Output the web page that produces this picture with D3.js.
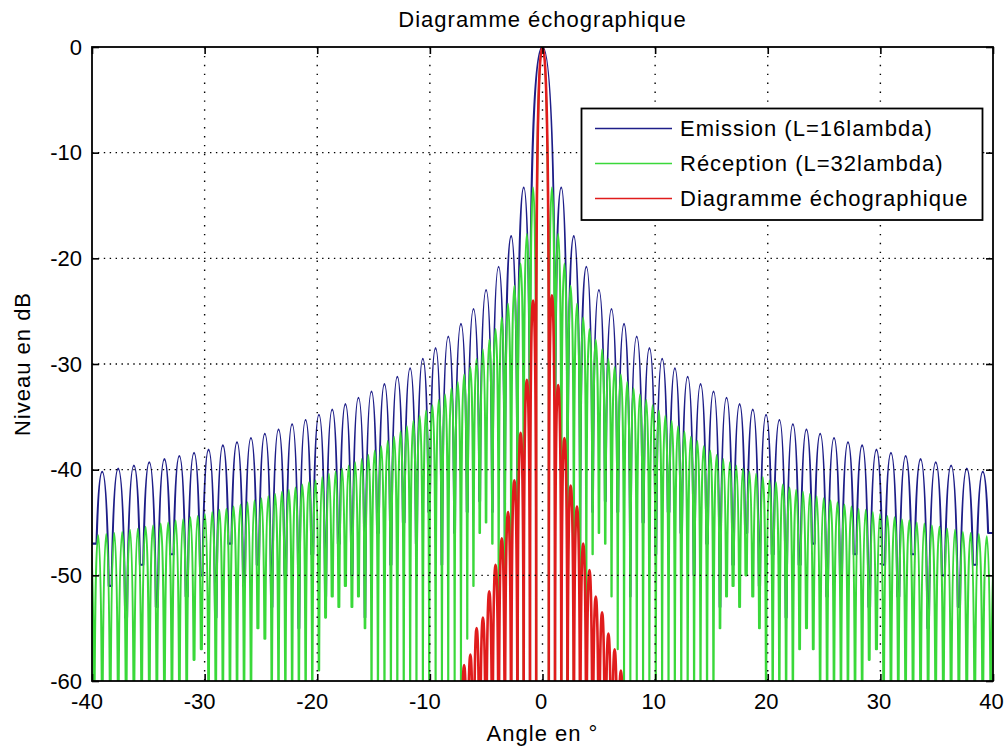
<!DOCTYPE html>
<html>
<head>
<meta charset="utf-8">
<script src="https://cdn.jsdelivr.net/npm/d3@7"></script>
<style>
  html, body { margin: 0; padding: 0; background: #fff; }
  svg { display: block; }
  text { font-family: "Liberation Sans", Arial, Helvetica, sans-serif; fill: #000; }
</style>
</head>
<body>
<svg id="chart" width="1005" height="749"></svg>
<script>
// ---------------- DATA ----------------
const chartTitle = "Diagramme échographique";
const xLabel = "Angle en °";
const yLabel = "Niveau en dB";
const xTicks = [-40, -30, -20, -10, 0, 10, 20, 30, 40];
const yTicks = [-60, -50, -40, -30, -20, -10, 0];
const seriesNames = ["Emission (L=16lambda)", "Réception (L=32lambda)", "Diagramme échographique"];

// Reception (L=32lambda): null angles (deg), depth reached at each null (dB), lobe peak levels (dB)
const receptionNullAngles = [-41.27,-40.54,-39.81,-39.09,-38.38,-37.67,-36.97,-36.28,-35.59,-34.91,-34.24,-33.57,-32.90,-32.24,-31.59,-30.94,-30.29,-29.65,-29.01,-28.38,-27.75,-27.12,-26.50,-25.88,-25.27,-24.65,-24.04,-23.44,-22.83,-22.23,-21.63,-21.03,-20.44,-19.85,-19.26,-18.67,-18.08,-17.50,-16.92,-16.34,-15.76,-15.18,-14.61,-14.03,-13.46,-12.89,-12.32,-11.75,-11.19,-10.62,-10.06,-9.49,-8.93,-8.37,-7.80,-7.24,-6.68,-6.13,-5.57,-5.01,-4.45,-3.89,-3.34,-2.78,-2.22,-1.67,-1.11,-0.56,
  0.56,1.11,1.67,2.22,2.78,3.34,3.89,4.45,5.01,5.57,6.13,6.68,7.24,7.80,8.37,8.93,9.49,10.06,10.62,11.19,11.75,12.32,12.89,13.46,14.03,14.61,15.18,15.76,16.34,16.92,17.50,18.08,18.67,19.26,19.85,20.44,21.03,21.63,22.23,22.83,23.44,24.04,24.65,25.27,25.88,26.50,27.12,27.75,28.38,29.01,29.65,30.29,30.94,31.59,32.24,32.90,33.57,34.24,34.91,35.59,36.28,36.97,37.67,38.38,39.09,39.81,40.54,41.27];
const receptionNullDepths = [-72,-68,-74,-66,-70,-64,-76,-68,-62,-72,-66,-74,-68,-63,-70,-58,-57,-62,-68,-74,-66,-70,-63,-60,-55,-56,-61,-67,-73,-65,-70,-62,-66,-59,-54,-52,-53,-51,-53,-52,-55,-61,-68,-74,-65,-72,-66,-78,-70,-64,-75,-68,-80,-72,-66,-61,-56,-51,-46,-45,-47,-53,-57,-61,-67,-73,-80,-85,
  -85,-80,-72,-66,-62,-58,-54,-48,-46,-47,-52,-57,-64,-70,-75,-68,-80,-72,-66,-78,-70,-64,-74,-68,-62,-66,-60,-55,-52,-51,-53,-50,-52,-55,-60,-66,-72,-64,-62,-57,-55,-57,-62,-70,-75,-66,-72,-64,-61,-58,-57,-63,-70,-76,-68,-74,-66,-62,-70,-78,-68,-64,-72,-66,-74,-68,-70,-70];
const receptionPeaks = [-46.5,-46.4,-46.2,-46.1,-46.0,-45.9,-45.7,-45.6,-45.4,-45.3,-45.1,-45.0,-44.8,-44.7,-44.5,-44.4,-44.2,-44.0,-43.8,-43.7,-43.5,-43.3,-43.1,-42.9,-42.7,-42.5,-42.3,-42.1,-41.9,-41.7,-41.4,-41.2,-41.0,-40.7,-40.4,-40.2,-39.9,-39.6,-39.3,-39.0,-38.6,-38.2,-37.8,-37.3,-36.9,-36.4,-35.9,-35.4,-34.9,-34.4,-33.9,-33.4,-32.9,-32.3,-31.7,-31.0,-30.3,-29.5,-28.6,-27.7,-26.7,-25.6,-24.3,-22.6,-20.5,-17.7,-13.3,
  0,
  -13.3,-17.7,-20.5,-22.6,-24.3,-25.6,-26.7,-27.7,-28.6,-29.5,-30.3,-31.0,-31.7,-32.3,-32.9,-33.4,-33.9,-34.4,-34.9,-35.4,-35.9,-36.4,-36.9,-37.3,-37.8,-38.2,-38.6,-39.0,-39.3,-39.6,-39.9,-40.2,-40.4,-40.7,-41.0,-41.2,-41.4,-41.7,-41.9,-42.1,-42.3,-42.5,-42.7,-42.9,-43.1,-43.3,-43.5,-43.7,-43.8,-44.0,-44.2,-44.4,-44.5,-44.7,-44.8,-45.0,-45.1,-45.3,-45.4,-45.6,-45.7,-45.9,-46.0,-46.1,-46.3,-46.4,-46.5];

// Emission (L=16lambda)
const emissionNullAngles = [-41.27,-39.81,-38.38,-36.97,-35.59,-34.24,-32.90,-31.59,-30.29,-29.01,-27.75,-26.50,-25.27,-24.04,-22.83,-21.63,-20.44,-19.26,-18.08,-16.92,-15.76,-14.61,-13.46,-12.32,-11.19,-10.06,-8.93,-7.80,-6.68,-5.57,-4.45,-3.34,-2.22,-1.11,
  1.11,2.22,3.34,4.45,5.57,6.68,7.80,8.93,10.06,11.19,12.32,13.46,14.61,15.76,16.92,18.08,19.26,20.44,21.63,22.83,24.04,25.27,26.50,27.75,29.01,30.29,31.59,32.90,34.24,35.59,36.97,38.38,39.81,41.27];
const emissionNullDepths = [-50,-47,-51,-54,-49,-53,-48,-52,-50,-54,-47,-51,-49,-53,-50,-55,-48,-52,-47,-50,-54,-46,-49,-45,-47,-44,-49,-46,-44,-43,-44,-59,-63,-70,
  -70,-62,-58,-44,-43,-44,-52,-45,-48,-44,-46,-50,-47,-53,-49,-46,-51,-48,-54,-49,-47,-52,-50,-48,-53,-49,-52,-48,-55,-50,-53,-49,-46,-50];
const emissionPeaks = [-40.4,-40.2,-39.9,-39.6,-39.3,-39.0,-38.7,-38.4,-38.1,-37.7,-37.4,-37.0,-36.6,-36.2,-35.7,-35.3,-34.8,-34.3,-33.8,-33.2,-32.6,-31.9,-31.2,-30.4,-29.5,-28.5,-27.4,-26.2,-24.8,-23.0,-20.8,-17.9,-13.3,
  0,
  -13.3,-17.9,-20.8,-23.0,-24.8,-26.2,-27.4,-28.5,-29.5,-30.4,-31.2,-31.9,-32.6,-33.2,-33.8,-34.3,-34.8,-35.3,-35.7,-36.2,-36.6,-37.0,-37.4,-37.7,-38.1,-38.4,-38.7,-39.0,-39.3,-39.6,-39.9,-40.2,-40.4];

// Diagramme echographique (product)
const echoNullAngles = [-7.80,-7.24,-6.68,-6.13,-5.57,-5.01,-4.45,-3.89,-3.34,-2.78,-2.22,-1.67,-1.11,-0.56,
  0.56,1.11,1.67,2.22,2.78,3.34,3.89,4.45,5.01,5.57,6.13,6.68,7.24,7.80];
const echoNullDepths = [-95,-92,-96,-90,-94,-93,-97,-91,-95,-92,-96,-94,-98,-100,
  -100,-98,-93,-95,-91,-96,-92,-94,-90,-97,-93,-95,-92,-96];
const echoPeaks = [-61,-58.5,-57.5,-55,-54,-51.5,-49,-46.5,-44,-41,-36.5,-31.5,-24,
  0,
  -23.5,-32,-37,-41.5,-43.5,-47,-49.5,-52,-53.5,-55.5,-57,-59,-61];

// ---------------- LAYOUT ----------------
const plot = { left: 92, right: 993, top: 47, bottom: 681 };
const colors = { emission: "#1e1e88", reception: "#3ad83a", echo: "#e01c1c" };
const FONT = 22;
const LOBE_RANGE = 33; // dB span used to shape each lobe's rounded top

const svg = d3.select("#chart");
const x = d3.scaleLinear().domain([-40, 40]).range([plot.left, plot.right]);
const y = d3.scaleLinear().domain([-60, 0]).range([plot.bottom, plot.top]);

svg.append("defs").append("clipPath").attr("id", "clip")
  .append("rect").attr("x", plot.left).attr("y", plot.top)
  .attr("width", plot.right - plot.left).attr("height", plot.bottom - plot.top);

svg.append("rect").attr("x", plot.left).attr("y", plot.top)
  .attr("width", plot.right - plot.left).attr("height", plot.bottom - plot.top)
  .attr("fill", "#fff");

const dataG = svg.append("g").attr("clip-path", "url(#clip)");

// Each lobe: from its null up to its peak level and back down to the next null
function lobePath(nulls, depths, peaks) {
  const R = LOBE_RANGE;
  const p = d3.path();
  let started = false;
  for (let i = 0; i < peaks.length; i++) {
    const pk = peaks[i];
    const x0 = x(nulls[i]), x1 = x(nulls[i + 1]);
    const xm = (x0 + x1) / 2, yp = y(pk), hw = xm - x0;
    const D0 = pk - depths[i];
    if (D0 >= R) {
      if (!started) { p.moveTo(x0, y(depths[i])); started = true; } else p.lineTo(x0, y(depths[i]));
      p.lineTo(x0, y(pk - R));
      p.quadraticCurveTo(x0, yp, xm, yp);
    } else {
      const t0 = 1 - Math.sqrt(Math.max(D0, 0) / R);
      const sx = x0 + hw * t0 * t0;
      if (!started) { p.moveTo(sx, y(depths[i])); started = true; } else p.lineTo(sx, y(depths[i]));
      p.quadraticCurveTo(x0 + hw * t0, yp, xm, yp);
    }
    const D1 = pk - depths[i + 1];
    if (D1 >= R) {
      p.quadraticCurveTo(x1, yp, x1, y(pk - R));
      p.lineTo(x1, y(depths[i + 1]));
    } else {
      const t1 = 1 - Math.sqrt(Math.max(D1, 0) / R);
      p.quadraticCurveTo(x1 - hw * t1, yp, x1 - hw * t1 * t1, y(depths[i + 1]));
    }
  }
  return p.toString();
}

function drawSeries(nulls, depths, peaks, color, w) {
  if (nulls.length !== depths.length || peaks.length !== nulls.length - 1) {
    console.error("length mismatch", nulls.length, depths.length, peaks.length);
  }
  dataG.append("path")
    .attr("d", lobePath(nulls, depths, peaks))
    .attr("fill", "none").attr("stroke", color)
    .attr("stroke-width", w).attr("stroke-linejoin", "round");
}

drawSeries(emissionNullAngles, emissionNullDepths, emissionPeaks, colors.emission, 2.1);
drawSeries(receptionNullAngles, receptionNullDepths, receptionPeaks, colors.reception, 2.1);
drawSeries(echoNullAngles, echoNullDepths, echoPeaks, colors.echo, 2.6);

// grid (dotted)
const gridG = svg.append("g");
gridG.selectAll("line.vg").data(xTicks.filter(d => d > -40 && d < 40)).join("line")
  .attr("x1", d => x(d)).attr("x2", d => x(d)).attr("y1", plot.top).attr("y2", plot.bottom)
  .attr("stroke", "#000").attr("stroke-width", 1.4).attr("stroke-dasharray", "1.4,7.5");
gridG.selectAll("line.hg").data(yTicks.filter(d => d > -60 && d < 0)).join("line")
  .attr("y1", d => y(d)).attr("y2", d => y(d)).attr("x1", plot.left).attr("x2", plot.right)
  .attr("stroke", "#000").attr("stroke-width", 1.4).attr("stroke-dasharray", "1.4,4.5");

// axes with inward ticks on four sides
const fmt = d => String(d);
const axB = svg.append("g").attr("transform", `translate(0,${plot.bottom})`)
  .call(d3.axisBottom(x).tickValues(xTicks).tickSize(-7).tickPadding(12).tickFormat(fmt));
const axT = svg.append("g").attr("transform", `translate(0,${plot.top})`)
  .call(d3.axisTop(x).tickValues(xTicks).tickSize(-7).tickFormat(""));
const axL = svg.append("g").attr("transform", `translate(${plot.left},0)`)
  .call(d3.axisLeft(y).tickValues(yTicks).tickSize(-7).tickPadding(10).tickFormat(fmt));
const axR = svg.append("g").attr("transform", `translate(${plot.right},0)`)
  .call(d3.axisRight(y).tickValues(yTicks).tickSize(-7).tickFormat(""));
[axB, axT, axL, axR].forEach(a => {
  a.select(".domain").remove();
  a.selectAll(".tick line").attr("stroke", "#000").attr("stroke-width", 1.6);
  a.selectAll("text").attr("font-size", FONT).attr("font-family", '"Liberation Sans", Arial, sans-serif').attr("fill", "#000");
});
axB.selectAll(".tick text").attr("dx", d => d < 0 ? -5.5 : -2);

svg.append("rect").attr("x", plot.left).attr("y", plot.top)
  .attr("width", plot.right - plot.left).attr("height", plot.bottom - plot.top)
  .attr("fill", "none").attr("stroke", "#000").attr("stroke-width", 1.8);

// titles
svg.append("text").attr("x", (plot.left + plot.right) / 2).attr("y", 27)
  .attr("text-anchor", "middle").attr("font-size", FONT).attr("letter-spacing", 1).text(chartTitle);
svg.append("text").attr("x", (plot.left + plot.right) / 2).attr("y", 741)
  .attr("text-anchor", "middle").attr("font-size", FONT).attr("letter-spacing", 1).text(xLabel);
svg.append("text").attr("transform", `translate(30,${(plot.top + plot.bottom) / 2}) rotate(-90)`)
  .attr("text-anchor", "middle").attr("font-size", FONT).attr("letter-spacing", 1).text(yLabel);

// legend
const leg = { x: 581.5, y: 108.5, w: 401, h: 111.5 };
const legG = svg.append("g");
legG.append("rect").attr("x", leg.x).attr("y", leg.y).attr("width", leg.w).attr("height", leg.h)
  .attr("fill", "#fff").attr("stroke", "#000").attr("stroke-width", 1.8);
const legColors = [colors.emission, colors.reception, colors.echo];
const rowY = [128.5, 163.5, 198.5];
seriesNames.forEach((name, i) => {
  legG.append("line").attr("x1", 595).attr("x2", 672).attr("y1", rowY[i]).attr("y2", rowY[i])
    .attr("stroke", legColors[i]).attr("stroke-width", 1.6);
  legG.append("text").attr("x", 680).attr("y", rowY[i]).attr("dy", "0.36em")
    .attr("font-size", FONT).attr("letter-spacing", 1).text(name);
});
</script>
</body>
</html>
